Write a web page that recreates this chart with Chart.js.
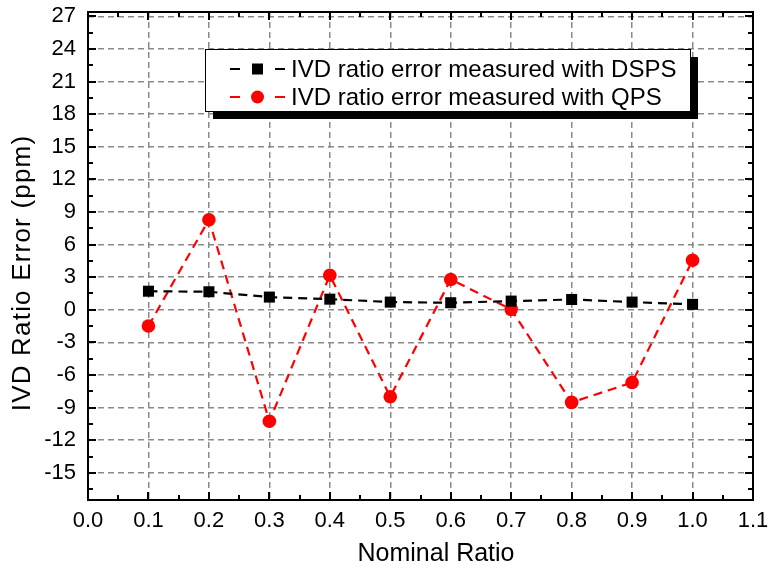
<!DOCTYPE html>
<html lang="en">
<head>
    <meta charset="UTF-8">
    <title>IVD Ratio Error</title>
    <script src="https://cdn.jsdelivr.net/npm/chart.js"></script>
    <style>
        html, body { margin: 0; padding: 0; background: #fff; overflow: hidden; }
        #wrap { width: 769px; height: 569px; }
    </style>
</head>
<body>
<div id="wrap"><canvas id="ratioChart"></canvas></div>

<script>
    // Data
    const nominalRatio = [0.1, 0.2, 0.3, 0.4, 0.5, 0.6, 0.7, 0.8, 0.9, 1.0];
    const dspsError = [1.71, 1.66, 1.17, 0.98, 0.71, 0.65, 0.80, 0.95, 0.71, 0.50];
    const qpsError = [-1.49, 8.29, -10.26, 3.18, -8.0, 2.79, 0.04, -8.52, -6.69, 4.56];

    const xTicks = [0.0, 0.1, 0.2, 0.3, 0.4, 0.5, 0.6, 0.7, 0.8, 0.9, 1.0, 1.1];
    const yTicks = [-15, -12, -9, -6, -3, 0, 3, 6, 9, 12, 15, 18, 21, 24, 27];

    const dspsLabel = 'IVD ratio error measured with DSPS';
    const qpsLabel = 'IVD ratio error measured with QPS';

    const FONT = 'Arial, "Liberation Sans", sans-serif';

    function toPoints(ys) {
        return nominalRatio.map((x, i) => ({x: x, y: ys[i]}));
    }

    // frame, inward ticks on all sides, axis titles and the boxed legend
    const framePlugin = {
        id: 'frame',
        afterDraw(chart) {
            const ctx = chart.ctx;
            const a = chart.chartArea;
            const xs = chart.scales.x, ys = chart.scales.y;
            ctx.save();
            ctx.strokeStyle = '#000';
            ctx.lineWidth = 2;

            // x ticks (major + minor)
            const xMinor = xTicks.slice(0, -1).map((v, i) => (v + xTicks[i + 1]) / 2);
            const tickX = (vals, len) => vals.forEach(v => {
                const px = Math.round(xs.getPixelForValue(v));
                ctx.beginPath();
                ctx.moveTo(px, a.bottom); ctx.lineTo(px, a.bottom - len);
                ctx.moveTo(px, a.top); ctx.lineTo(px, a.top + len);
                ctx.stroke();
            });
            tickX(xTicks, 8);
            tickX(xMinor, 5);

            // y ticks (major + minor)
            const yMinor = [yTicks[0] - 1.5].concat(yTicks.map(v => v + 1.5));
            const tickY = (vals, len) => vals.forEach(v => {
                if (v < ys.min || v > ys.max) return;
                const py = Math.round(ys.getPixelForValue(v));
                ctx.beginPath();
                ctx.moveTo(a.left, py); ctx.lineTo(a.left + len, py);
                ctx.moveTo(a.right, py); ctx.lineTo(a.right - len, py);
                ctx.stroke();
            });
            tickY(yTicks, 8);
            tickY(yMinor, 5);

            ctx.strokeRect(a.left, a.top, a.right - a.left, a.bottom - a.top);

            // axis titles
            ctx.fillStyle = '#000';
            ctx.font = '25px ' + FONT;
            ctx.textAlign = 'center';
            ctx.textBaseline = 'middle';
            ctx.fillText('Nominal Ratio', 436, 554);
            ctx.save();
            ctx.translate(23, 273);
            ctx.rotate(-Math.PI / 2);
            ctx.font = '26px ' + FONT;
            ctx.letterSpacing = '1.2px';
            ctx.fillText('IVD Ratio Error (ppm)', 0, 0);
            ctx.restore();

            // legend box with shadow
            const bx = 205, by = 49, bw = 485, bh = 62;
            ctx.fillStyle = '#000';
            ctx.fillRect(bx + 8, by + 8, bw, bh);
            ctx.fillStyle = '#fff';
            ctx.fillRect(bx, by, bw, bh);
            ctx.lineWidth = 1;
            ctx.strokeStyle = '#000';
            ctx.strokeRect(bx + 0.5, by + 0.5, bw, bh);

            const rows = [
                {label: dspsLabel, color: '#000', style: 'rect', y: 69},
                {label: qpsLabel, color: '#ff0000', style: 'circle', y: 97}
            ];
            rows.forEach(r => {
                ctx.strokeStyle = r.color;
                ctx.lineWidth = 2;
                ctx.beginPath();
                ctx.moveTo(230, r.y); ctx.lineTo(240, r.y);
                ctx.moveTo(275, r.y); ctx.lineTo(285, r.y);
                ctx.stroke();
                ctx.fillStyle = r.color;
                if (r.style === 'rect') {
                    ctx.fillRect(252, r.y - 5.5, 11, 11);
                } else {
                    ctx.beginPath();
                    ctx.arc(257.5, r.y, 6.5, 0, Math.PI * 2);
                    ctx.fill();
                }
                ctx.fillStyle = '#000';
                ctx.font = '24px ' + FONT;
                ctx.textAlign = 'left';
                ctx.textBaseline = 'middle';
                ctx.fillText(r.label, 291, r.y + 1);
            });
            ctx.restore();
        }
    };

    new Chart(document.getElementById('ratioChart').getContext('2d'), {
        type: 'line',
        data: {
            datasets: [
                {
                    label: dspsLabel,
                    data: toPoints(dspsError),
                    borderColor: '#000',
                    backgroundColor: '#000',
                    borderWidth: 2.2,
                    borderDash: [9, 6],
                    pointStyle: 'rect',
                    pointRadius: 7.8,
                    pointBorderWidth: 0,
                    pointBackgroundColor: '#000'
                },
                {
                    label: qpsLabel,
                    data: toPoints(qpsError),
                    borderColor: '#ff0000',
                    backgroundColor: '#ff0000',
                    borderWidth: 2.2,
                    borderDash: [9, 6],
                    pointStyle: 'circle',
                    pointRadius: 6.8,
                    pointBorderWidth: 0,
                    pointBackgroundColor: '#ff0000'
                }
            ]
        },
        options: {
            responsive: true,
            maintainAspectRatio: false,
            animation: false,
            layout: {padding: {top: 12, right: 16, left: 0, bottom: 0}},
            plugins: {legend: {display: false}, tooltip: {enabled: false}},
            scales: {
                x: {
                    type: 'linear',
                    min: 0,
                    max: 1.1,
                    afterBuildTicks: s => { s.ticks = xTicks.map(v => ({value: v})); },
                    afterFit: s => { s.height = 69; s.paddingLeft = 0; s.paddingRight = 0; },
                    grid: {color: '#8a8a8a', lineWidth: 1.5, drawTicks: false},
                    border: {display: false, dash: [6, 4]},
                    ticks: {
                        color: '#000',
                        font: {family: FONT, size: 22},
                        padding: 8,
                        maxRotation: 0,
                        autoSkip: false,
                        callback: v => Number(v).toFixed(1)
                    }
                },
                y: {
                    min: -17.5,
                    max: 27.4,
                    afterBuildTicks: s => { s.ticks = yTicks.map(v => ({value: v})); },
                    afterFit: s => { s.width = 88; s.paddingTop = 0; s.paddingBottom = 0; },
                    grid: {color: '#8a8a8a', lineWidth: 1.5, drawTicks: false},
                    border: {display: false, dash: [6, 4]},
                    ticks: {
                        color: '#000',
                        font: {family: FONT, size: 22},
                        padding: 12,
                        autoSkip: false
                    }
                }
            }
        },
        plugins: [framePlugin]
    });
</script>
</body>
</html>
